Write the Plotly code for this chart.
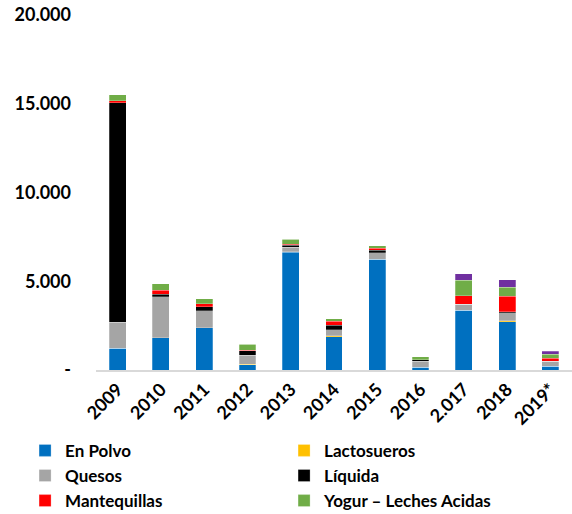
import plotly.graph_objects as go

years = ["2009", "2010", "2011", "2012", "2013", "2014", "2015", "2016", "2.017", "2018", "2019*"]

en_polvo     = [1220, 1820, 2390, 290, 6640, 1880, 6230, 150, 3360, 2730, 200]
lactosueros  = [0, 0, 0, 30, 30, 40, 0, 0, 0, 50, 0]
quesos       = [1480, 2320, 940, 520, 250, 355, 380, 330, 340, 455, 300]
liquida      = [12350, 115, 240, 240, 120, 245, 130, 90, 0, 60, 0]
mantequillas = [110, 225, 150, 20, 50, 220, 130, 0, 470, 850, 165]
yogur        = [360, 375, 300, 340, 280, 155, 130, 190, 890, 525, 210]
otros        = [0, 0, 0, 0, 0, 0, 0, 0, 350, 420, 185]

series = [
    ("En Polvo", en_polvo, "#0070C0", True),
    ("Lactosueros", lactosueros, "#FFC000", True),
    ("Quesos", quesos, "#A5A5A5", True),
    ("Líquida", liquida, "#000000", True),
    ("Mantequillas", mantequillas, "#FF0000", True),
    ("Yogur – Leches Acidas", yogur, "#70AD47", True),
    ("Otros", otros, "#7030A0", False),
]

y_tickvals = [0, 5000, 10000, 15000, 20000]
y_ticktext = ["-", "5.000", "10.000", "15.000", "20.000"]

fig = go.Figure()
for name, vals, color, show in series:
    fig.add_trace(go.Bar(
        x=years, y=vals, name=name, showlegend=show,
        marker=dict(color=color, line=dict(color="rgba(255,255,255,0.5)", width=0.5)),
    ))

font_family = "Lato, 'Open Sans', sans-serif"

fig.update_layout(
    barmode="stack",
    bargap=0.61,
    width=572, height=514,
    margin=dict(l=96, r=0, t=15, b=144, autoexpand=False),
    paper_bgcolor="white", plot_bgcolor="white",
    font=dict(family=font_family, color="black"),
    xaxis=dict(
        type="category",
        tickangle=-45,
        tickfont=dict(size=18, family=font_family, color="black", weight="bold"),
        showline=True, linecolor="#D9D9D9", linewidth=2,
        showgrid=False, ticks="",
    ),
    yaxis=dict(
        range=[0, 20000],
        tickvals=y_tickvals, ticktext=y_ticktext,
        tickfont=dict(size=18, family=font_family, color="black", weight="bold"),
        showgrid=False, zeroline=False, showline=False, ticks="",
        ticklabelstandoff=24,
    ),
    legend=dict(
        orientation="h",
        x=-0.149, xanchor="left",
        y=-0.177, yanchor="top",
        entrywidth=214, entrywidthmode="pixels",
        font=dict(size=17, family=font_family, color="black", weight="bold"),
        traceorder="normal",
        itemwidth=30,
        tracegroupgap=0,
    ),
)

fig.write_html(
    "out.html",
    config={"displayModeBar": False},
    post_script="document.body.style.margin='0';document.body.style.overflow='hidden';",
)
